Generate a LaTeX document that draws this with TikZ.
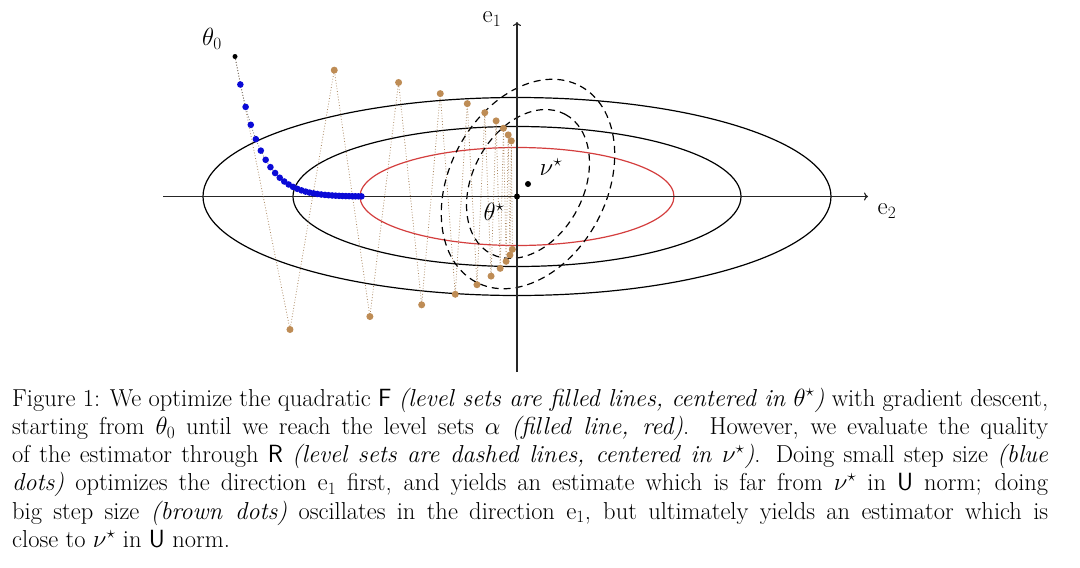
\documentclass[tikz,border=0pt]{standalone}
\usetikzlibrary{arrows.meta}
\definecolor{gdblue}{RGB}{10,10,215}
\definecolor{gdbrown}{RGB}{190,140,85}
\definecolor{lvred}{RGB}{212,62,62}
\tikzset{
  level/.style={draw=black, line width=1.2pt},
  redlevel/.style={draw=lvred, line width=1.2pt},
  dashlevel/.style={draw=black, line width=1.2pt, dash pattern=on 7pt off 5pt},
  axisline/.style={draw=black!85, line width=1.1pt, -{To[length=4pt,width=8pt]}},
  bluedot/.style={circle, fill=gdblue, inner sep=0pt, minimum size=6.6pt},
  browndot/.style={circle, fill=gdbrown, inner sep=0pt, minimum size=7pt},
  blackdot/.style={circle, fill=black, inner sep=0pt, minimum size=6pt},
  bluepath/.style={draw=black!60, line width=0.8pt, dash pattern=on 0.8pt off 2pt},
  brownpath/.style={draw=gdbrown!70!gray, line width=0.8pt, dash pattern=on 0.8pt off 2pt},
  lbl/.style={inner sep=0pt, font=\fontsize{24.5}{28}\selectfont},
  capline/.style={anchor=base west, inner sep=0pt, font=\fontsize{24.5}{28}\selectfont}
}
\begin{document}
\begin{tikzpicture}[x=1pt,y=-1pt]
\useasboundingbox[fill=white] (0,0) rectangle (1080,568);
% level sets of F
\coordinate (O) at (517,196.5);
\draw[level] (O) ellipse [x radius=314, y radius=99];
\draw[level] (O) ellipse [x radius=224, y radius=70];
\draw[redlevel] (O) ellipse [x radius=157, y radius=49];
% level sets of R
\coordinate (nuc) at (528,184);
\draw[dashlevel, shift={(528,184)}, rotate=62] (0,0) ellipse [x radius=111, y radius=78.5];
\draw[dashlevel, shift={(528,184)}, rotate=62] (0,0) ellipse [x radius=79, y radius=55.5];
% axes
\coordinate (xs) at (163,196.5);
\coordinate (xe) at (868,196.5);
\coordinate (ys) at (517,372);
\coordinate (ye) at (517,22);
\draw[axisline] (xs) -- (xe);
\draw[axisline] (ys) -- (ye);
\node[lbl] (e2) at (887,211) {$\mathrm{e}_2$};
\node[lbl] (e1) at (492,19) {$\mathrm{e}_1$};
% iterates
\coordinate (p0) at (235,56.5);
\foreach \k in {1,...,31}{
  \pgfmathsetmacro\bx{517-282*pow(0.981,\k)}
  \pgfmathsetmacro\by{196.5-140*pow(0.8,\k)}
  \coordinate (pb\k) at (\bx,\by);
}
\foreach \k in {1,...,19}{
  \pgfmathsetmacro\rx{517-282*pow(0.805,\k)}
  \pgfmathsetmacro\ry{196.5-140*pow(0.95,\k)*(1-2*mod(\k,2))}
  \coordinate (pr\k) at (\rx,\ry);
}
\draw[brownpath] (p0) \foreach \k in {1,...,19}{ -- (pr\k)};
\draw[bluepath] (p0) \foreach \k in {1,...,31}{ -- (pb\k)};
\foreach \k in {1,...,19}{ \node[browndot] (r\k) at (pr\k) {}; }
\foreach \k in {1,...,31}{ \node[bluedot] (b\k) at (pb\k) {}; }
\node[blackdot, minimum size=5pt] (t0) at (p0) {};
\node[lbl] (t0l) at (212,39) {$\theta_0$};
\node[blackdot] (ts) at (O) {};
\node[lbl] (tsl) at (494,212) {$\theta^\star$};
\node[blackdot] (nu) at (nuc) {};
\node[lbl] (nul) at (551,167) {$\nu^\star$};
% caption
\node[capline] (c1) at (12,406) {\makebox[1036pt][s]{Figure 1: We optimize the quadratic $\mathsf{F}$ \textit{(level sets are filled lines, centered in $\theta^\star$)} with gradient descent,}};
\node[capline] (c2) at (12,434.3) {\makebox[1036pt][s]{starting from $\theta_0$ until we reach the level sets $\alpha$ \textit{(filled line, red)}.  However, we evaluate the quality}};
\node[capline] (c3) at (12,462.6) {\makebox[1036pt][s]{of the estimator through $\mathsf{R}$ \textit{(level sets are dashed lines, centered in $\nu^\star$)}.  Doing small step size \textit{(blue}}};
\node[capline] (c4) at (12,490.9) {\makebox[1036pt][s]{\textit{dots)} optimizes the direction $\mathrm{e}_1$ first, and yields an estimate which is far from $\nu^\star$ in $\mathsf{U}$ norm; doing}};
\node[capline] (c5) at (12,519.2) {\makebox[1036pt][s]{big step size \textit{(brown dots)} oscillates in the direction $\mathrm{e}_1$, but ultimately yields an estimator which is}};
\node[capline] (c6) at (12,547.5) {close to $\nu^\star$ in $\mathsf{U}$ norm.};
\end{tikzpicture}
\end{document}
